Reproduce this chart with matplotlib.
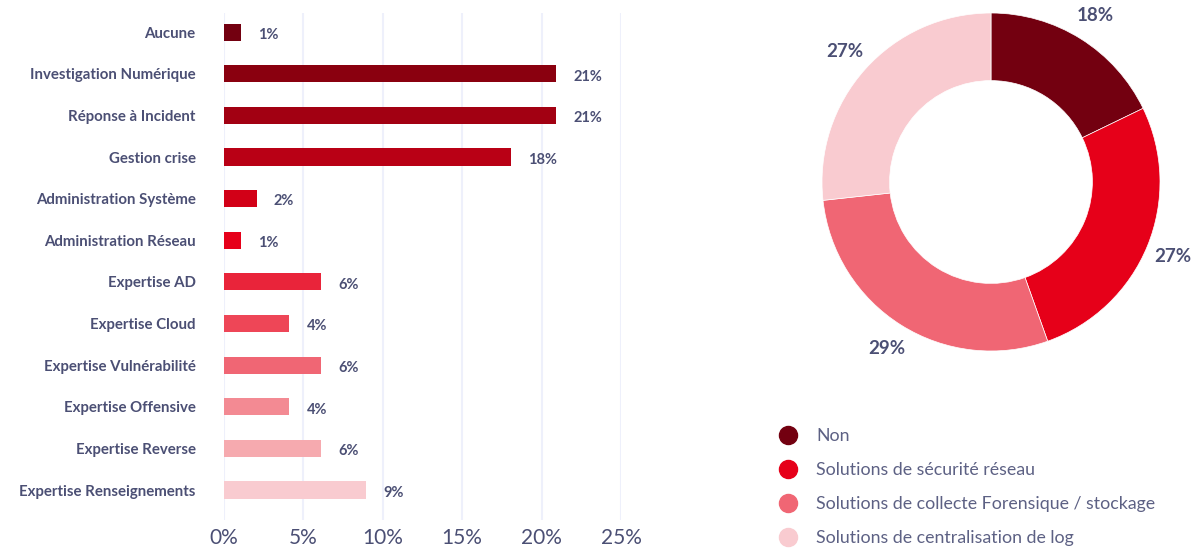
import matplotlib
matplotlib.use('Agg')
import matplotlib.pyplot as plt
from matplotlib.lines import Line2D

plt.rcParams['font.family'] = ['Lato', 'DejaVu Sans']

# bar chart data
categories = ['Aucune', 'Investigation Numérique', 'Réponse à Incident', 'Gestion crise',
              'Administration Système', 'Administration Réseau', 'Expertise AD',
              'Expertise Cloud', 'Expertise Vulnérabilité', 'Expertise Offensive',
              'Expertise Reverse', 'Expertise Renseignements']
values = [1.05, 20.9, 20.9, 18.05, 2.05, 1.05, 6.1, 4.1, 6.1, 4.1, 6.1, 8.95]
value_labels = ['1%', '21%', '21%', '18%', '2%', '1%', '6%', '4%', '6%', '4%', '6%', '9%']
bar_colors = ['#730010', '#8a000f', '#a20012', '#b90015', '#d20017', '#e6001a',
              '#e9243a', '#ee4657', '#f06674', '#f38a93', '#f6aaaf', '#f9cbd0']
xticks = [0, 5, 10, 15, 20, 25]

# donut data
pie_labels = ['Non', 'Solutions de sécurité réseau',
              'Solutions de collecte Forensique / stockage',
              'Solutions de centralisation de log']
pie_values = [18, 27, 29, 27]
pie_colors = ['#730010', '#e60019', '#f06674', '#f9cbd0']

text_col = '#4b4f74'
legend_col = '#5d6184'
grid_col = '#eef0fb'

fig = plt.figure(figsize=(11.95, 5.48), dpi=100)

ax = fig.add_axes([224 / 1195, 1 - 520 / 548, 397 / 1195, 507 / 548])
y = list(range(len(categories)))
ax.barh(y, values, height=0.41, color=bar_colors, zorder=3)
for yi, v, lab in zip(y, values, value_labels):
    ax.annotate(lab, (v, yi), xytext=(12.5, -2), textcoords='offset points',
                ha='left', va='center', fontsize=10.5, fontweight='bold', color=text_col)
ax.set_xlim(0, 25)
ax.set_ylim(11.72, -0.46)
ax.set_xticks(xticks)
ax.set_xticklabels([f'{t}%' for t in xticks], fontsize=15, color=text_col)
ax.set_yticks(y)
ax.set_yticklabels(categories, fontsize=10.8, fontweight='bold', color=text_col)
ax.tick_params(axis='both', length=0)
ax.tick_params(axis='y', pad=20.5)
ax.tick_params(axis='x', pad=6)
ax.grid(axis='x', color=grid_col, linewidth=1.5, zorder=0)
for s in ax.spines.values():
    s.set_visible(False)

# donut
cx, cy, r = 991, 548 - 182, 169
half = r * 1.3
ax2 = fig.add_axes([(cx - half) / 1195, (cy - half) / 548, 2 * half / 1195, 2 * half / 548])
wedges, texts = ax2.pie(pie_values, colors=pie_colors, startangle=90, counterclock=False,
                        radius=1, labels=[f'{v}%' for v in pie_values], labeldistance=1.16,
                        wedgeprops=dict(width=0.4, edgecolor='white', linewidth=0.5),
                        textprops=dict(fontsize=13.5, fontweight='bold', color=text_col))
for t in texts:
    t.set_ha('center')
    t.set_va('center')
ax2.set_xlim(-1.3, 1.3)
ax2.set_ylim(-1.3, 1.3)
ax2.set_aspect('auto')
ax2.axis('off')

handles = [Line2D([], [], marker='o', linestyle='none', markersize=13,
                  markerfacecolor=c, markeredgecolor=c) for c in pie_colors]
leg = fig.legend(handles, pie_labels, loc='upper left',
                 bbox_to_anchor=(777.4 / 1195, 1 - 428 / 548), frameon=False,
                 fontsize=12.75, handlelength=1.2, handletextpad=0.98,
                 labelspacing=1.02, borderpad=0, borderaxespad=0)
for t in leg.get_texts():
    t.set_color(legend_col)

fig.savefig('out.png', dpi=100)
